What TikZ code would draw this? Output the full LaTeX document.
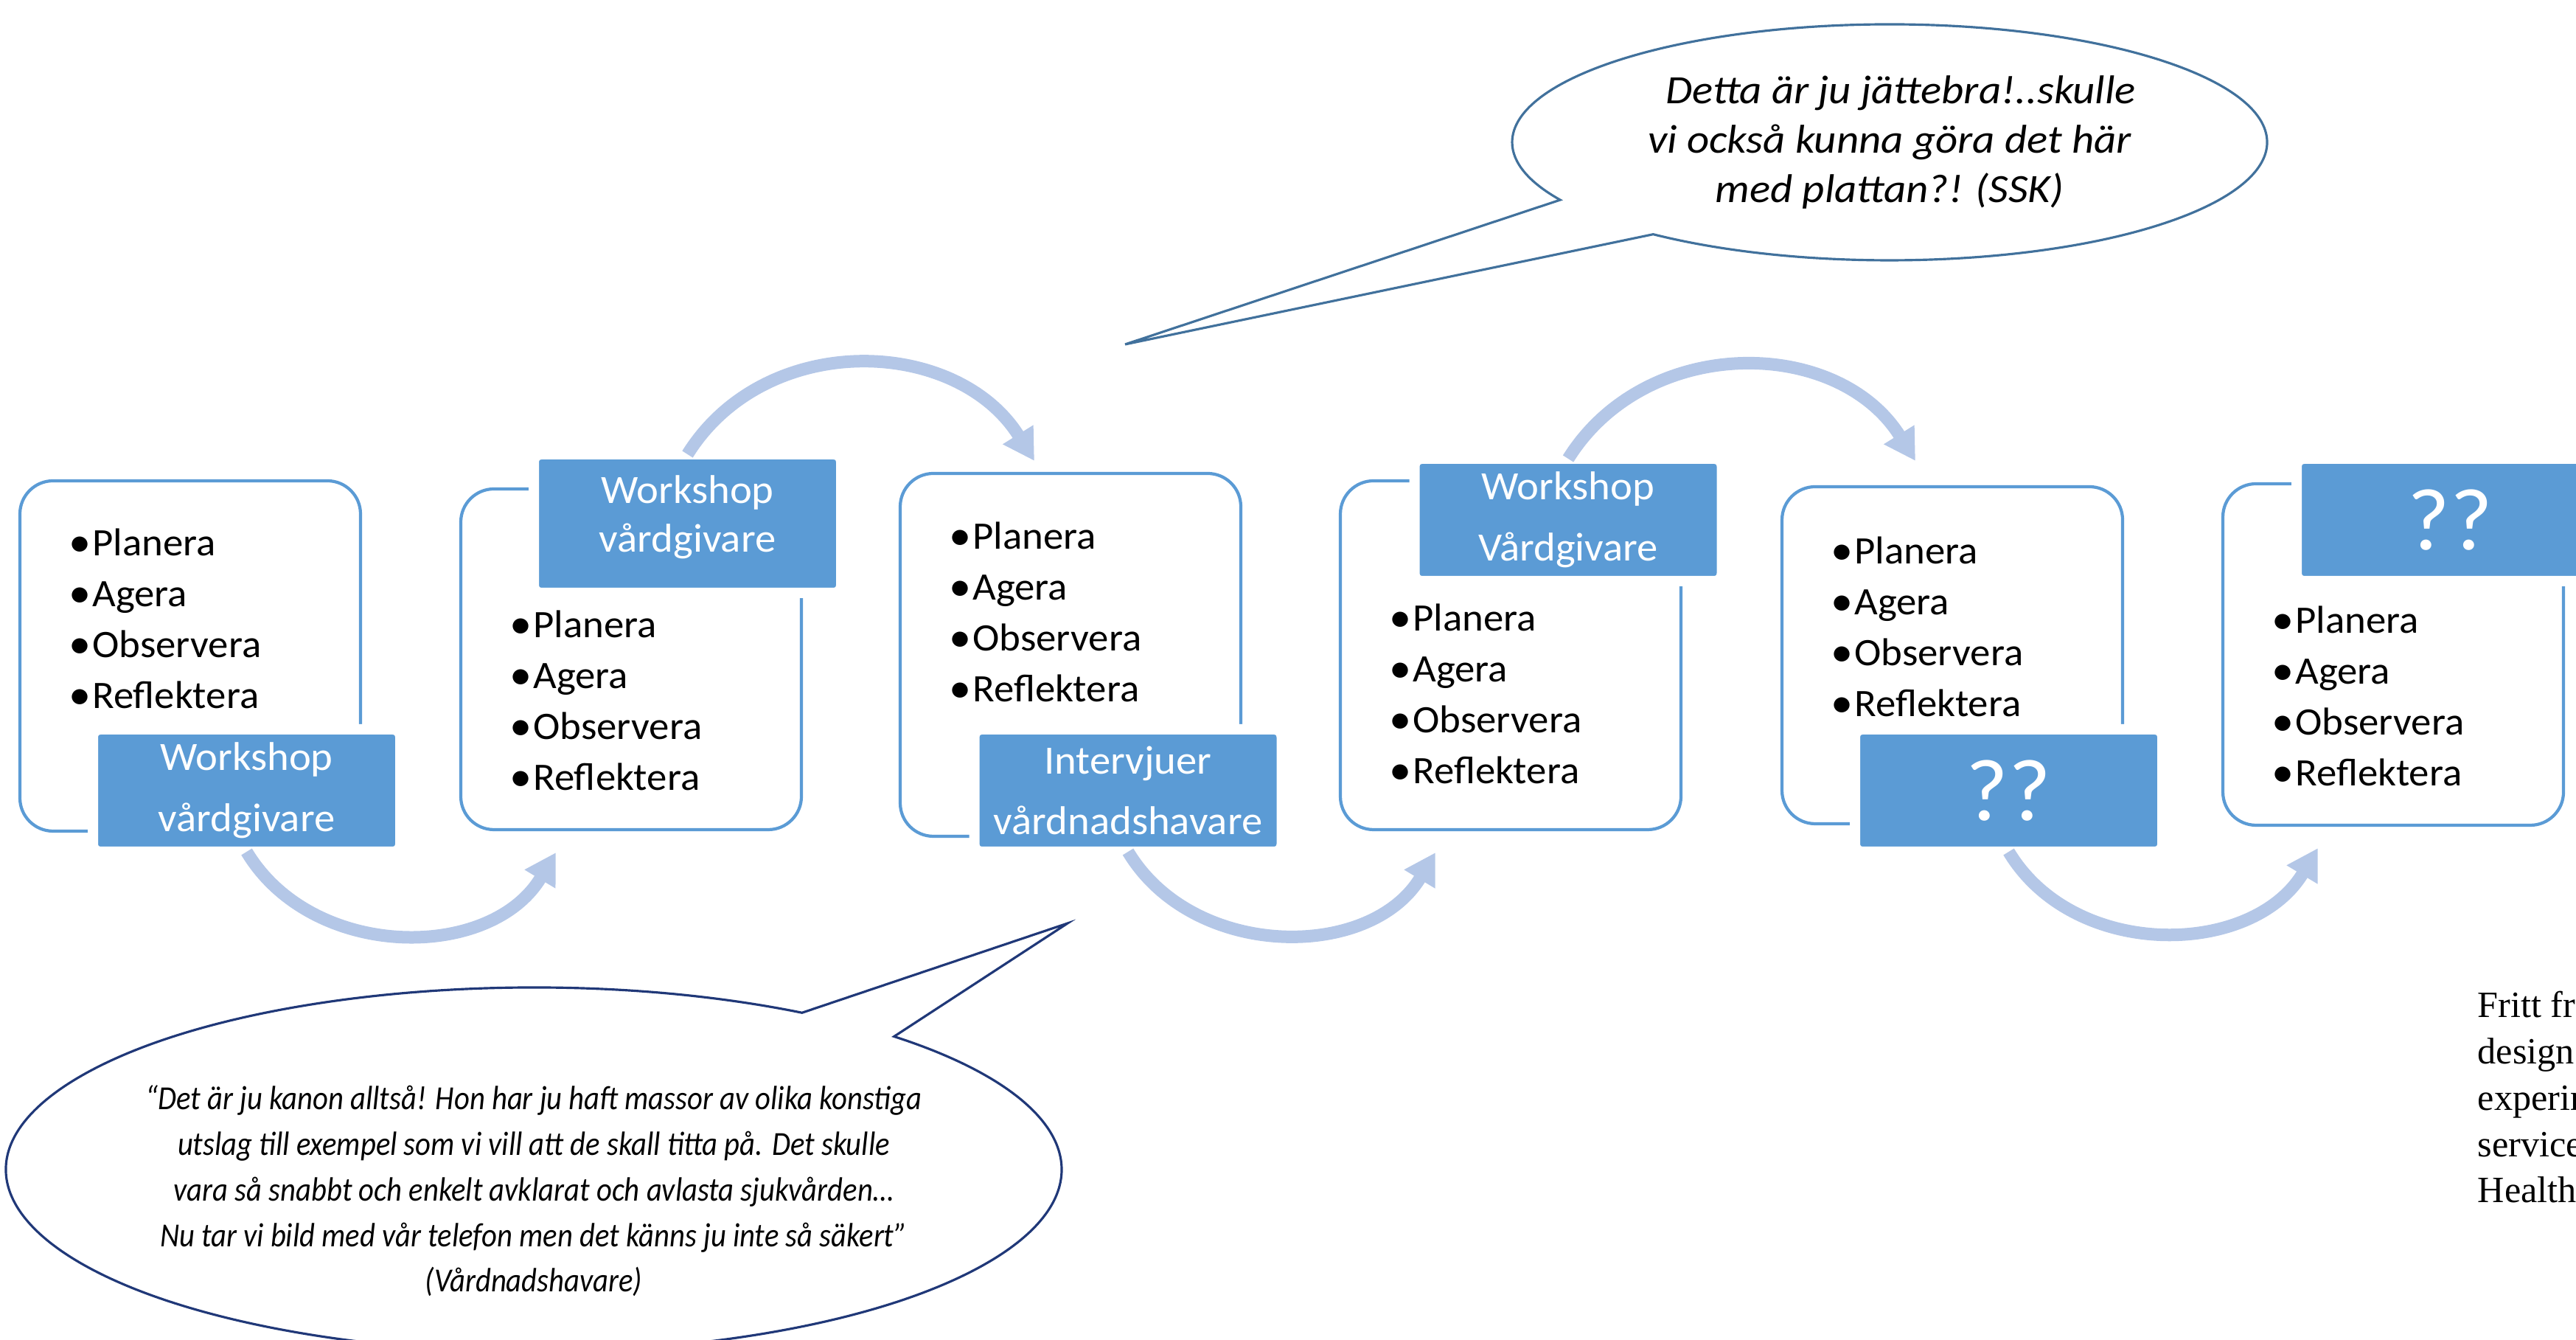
\documentclass[tikz,border=0pt]{standalone}
\usepackage{fontspec}
\setmainfont{Carlito}[FakeStretch=1.04]
\newfontfamily\bubblefont[FakeStretch=1.08]{Carlito}
\newfontfamily\quotefont[FakeStretch=0.89]{Carlito}
\newfontfamily\notefont{Liberation Serif}
\usetikzlibrary{
  arrows.meta,
  positioning,
  shapes.callouts,
}
\definecolor{stageblue}{RGB}{91,155,213}
\definecolor{flowblue}{RGB}{180,199,231}
\definecolor{bubbleline}{RGB}{65,113,156}
\definecolor{quoteline}{RGB}{32,56,120}
\tikzset{
  stagebox/.style={
    draw=stageblue,
    line width=1.2pt,
    rounded corners=0.45cm,
    minimum width=4.62cm,
    anchor=north west,
    inner sep=0pt,
    outer sep=0pt
  },
  stagelabel/.style={
    fill=stageblue,
    draw=white,
    line width=0.14cm,
    rounded corners=0.1cm,
    minimum width=4.17cm,
    minimum height=1.66cm,
    text=white,
    align=center,
    font=\fontsize{15.5}{23.6}\selectfont,
    inner sep=0pt,
    outer sep=0pt
  },
  item/.style={
    anchor=west,
    font=\fontsize{15}{18}\selectfont,
    text height=0.64em,
    text depth=0pt,
    inner sep=0pt
  },
  flow/.style={
    draw=flowblue,
    line width=0.17cm,
    -{Triangle[length=0.42cm,width=0.46cm]}
  },
  note/.style={
    anchor=base west,
    font=\notefont\fontsize{14.3}{16}\selectfont,
    inner sep=0pt
  },
}

\begin{document}
\begin{tikzpicture}
  \useasboundingbox (0,0) rectangle (34.94,18.17);
  \clip (0,0) rectangle (34.94,18.17);

  % stages
  \node[stagebox, minimum height=4.75cm] (box1) at (0.27,11.65) {};
  \node[stagebox, minimum height=4.62cm] (box2) at (6.25,11.54) {};
  \node[stagebox, minimum height=4.92cm] (box3) at (12.21,11.75) {};
  \node[stagebox, minimum height=4.73cm] (box4) at (18.18,11.65) {};
  \node[stagebox, minimum height=4.57cm] (box5) at (24.17,11.57) {};
  \node[stagebox, minimum height=4.63cm] (box6) at (30.15,11.61) {};

  \node[stagelabel] (lab1) at (3.345,7.45) {Workshop\\vårdgivare};
  \node[stagelabel, minimum height=1.88cm] (lab2) at (9.325,11.07) {Workshop\\[-4.8pt]vårdgivare\rule[-0.26cm]{0pt}{0pt}};
  \node[stagelabel] (lab3) at (15.30,7.45) {Intervjuer\\vårdnadshavare};
  \node[stagelabel] (lab4) at (21.27,11.12) {Workshop\\Vårdgivare};
  \node[stagelabel, font=\fontsize{34}{36}\selectfont] (lab5) at (27.245,7.45) {??};
  \node[stagelabel, font=\fontsize{34}{36}\selectfont] (lab6) at (33.235,11.12) {??};

  \foreach \n/\dy in {1/-0.90, 2/-1.90, 3/-0.91, 4/-1.92, 5/-0.93, 6/-1.91}
    \foreach \w [count=\k] in {Planera,Agera,Observera,Reflektera}
      \node[item] (list\n-\k) at ([shift={(0.66,{\dy-0.69*(\k-1)})}]box\n.north west)
        {\makebox[9pt][l]{\fontsize{16.5}{16.5}\selectfont\raisebox{-0.03em}{\textbullet}}\w};

  % cycle arrows
  \draw[flow] (lab1.south) to[out=-59,in=-121,looseness=1.05] ([shift={(1.29,-0.31)}]box2.south west);
  \draw[flow] (lab2.north) to[out=58,in=122,looseness=1.08] ([shift={(1.82,0.17)}]box3.north west);
  \draw[flow] (lab3.south) to[out=-59,in=-121,looseness=1.05] ([shift={(1.29,-0.31)}]box4.south west);
  \draw[flow] (lab4.north) to[out=58,in=122,looseness=1.08] ([shift={(1.81,0.35)}]box5.north west);
  \draw[flow] (lab5.south) to[out=-59,in=-121,looseness=1.05] ([shift={(1.29,-0.31)}]box6.south west);

  % speech bubbles
  \coordinate (bubbletip) at (15.26,13.50);
  \node[ellipse callout, draw=bubbleline, line width=0.9pt, fill=white,
        minimum width=10.24cm, minimum height=3.2cm,
        callout absolute pointer={(bubbletip)}, callout pointer arc=22,
        align=center, font=\bubblefont\itshape\fontsize{15.5}{19}\selectfont] (bubble) at (25.63,16.24)
    {\hspace{0.3cm}Detta är ju jättebra!..skulle\\vi också kunna göra det här\\med plattan?! (SSK)};

  \coordinate (quotetip) at (14.48,5.65);
  \node[ellipse callout, draw=quoteline, line width=0.9pt, fill=white,
        minimum width=14.32cm, minimum height=4.94cm,
        callout absolute pointer={(quotetip)}, callout pointer arc=12.5] (quote) at (7.24,2.31) {};
  \node[align=center, font=\quotefont\itshape\fontsize{13}{17.6}\selectfont] (quotetext) at (7.24,2.02)
    {“Det är ju kanon alltså! Hon har ju haft massor av olika konstiga\\
     utslag till exempel som vi vill att de skall titta på. Det skulle\\
     vara så snabbt och enkelt avklarat och avlasta sjukvården…\\
     Nu tar vi bild med vår telefon men det känns ju inte så säkert”\\
     (Vårdnadshavare)};

  % side note
  \foreach \t [count=\k] in {Fritt från,design,experiment,service,Health}
    \node[note] (note\k) at (33.60,{4.37-0.627*(\k-1)}) {\t};
\end{tikzpicture}
\end{document}
